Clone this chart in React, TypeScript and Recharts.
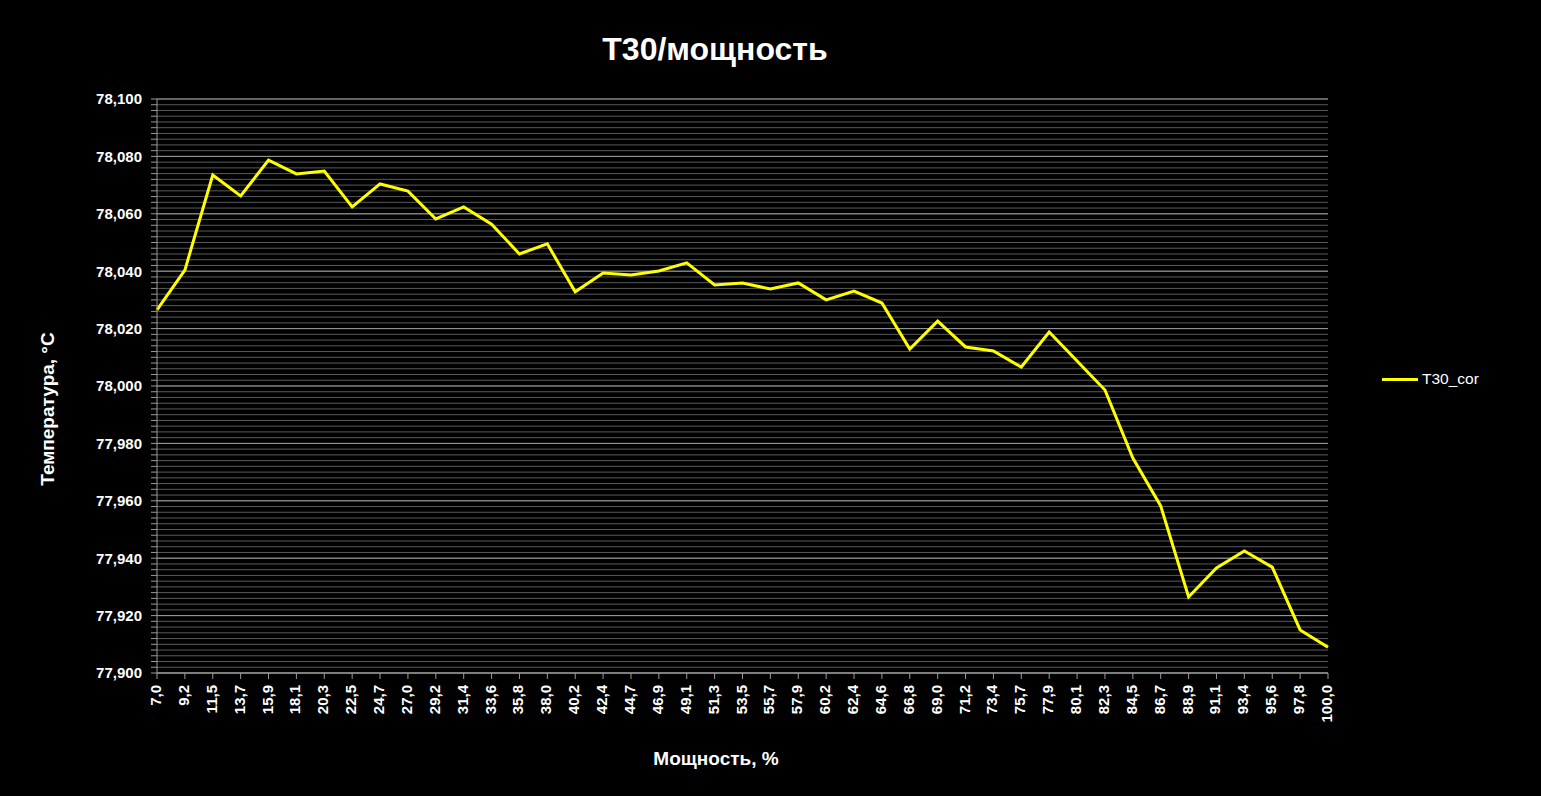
import React from 'react'
import { LineChart, Line, XAxis, YAxis, CartesianGrid, ReferenceLine } from 'recharts'

const power = [
  '7,0', '9,2', '11,5', '13,7', '15,9', '18,1', '20,3', '22,5', '24,7', '27,0',
  '29,2', '31,4', '33,6', '35,8', '38,0', '40,2', '42,4', '44,7', '46,9', '49,1',
  '51,3', '53,5', '55,7', '57,9', '60,2', '62,4', '64,6', '66,8', '69,0', '71,2',
  '73,4', '75,7', '77,9', '80,1', '82,3', '84,5', '86,7', '88,9', '91,1', '93,4',
  '95,6', '97,8', '100,0'
]

const t30 = [
  78.0265, 78.0404, 78.0735, 78.0662, 78.0787, 78.0739, 78.0749, 78.0624, 78.0704, 78.0679,
  78.0582, 78.0624, 78.0564, 78.046, 78.0495, 78.0328, 78.0394, 78.0387, 78.0401, 78.0429,
  78.0352, 78.0359, 78.0338, 78.0359, 78.030, 78.0331, 78.0289, 78.0129, 78.0226, 78.0136,
  78.0122, 78.0066, 78.0188, 78.0087, 77.9986, 77.9749, 77.9582, 77.9265, 77.9366, 77.9425,
  77.9369, 77.915, 77.909
]

const majorTicks = [77.9, 77.92, 77.94, 77.96, 77.98, 78.0, 78.02, 78.04, 78.06, 78.08, 78.1]

// minor grid every 0.002
const minorTicks: number[] = []
for (let i = 0; i <= 100; i++) minorTicks.push(Math.round((77.9 + i * 0.002) * 1000) / 1000)

const data = power.map((p, i) => ({ power: p, t30: t30[i] }))

const font = '"Liberation Sans", Arial, sans-serif'

const isMajor = (v: number) => Math.abs(Math.round(v * 50) - v * 50) < 1e-6

const XTick = (props: any) => {
  const { x, y, payload } = props
  return (
    <text x={x} y={y} transform={`rotate(-90, ${x}, ${y})`} textAnchor="end" dy={4}
      fill="#fff" fontSize={15} fontWeight="bold" fontFamily={font}>
      {payload.value}
    </text>
  )
}

export default function App() {
  return (
    <div style={{ position: 'absolute', left: 0, top: 0, width: 1541, height: 796, background: '#000', fontFamily: font }}>
      <div style={{ position: 'absolute', left: 0, width: 1430, top: 31, textAlign: 'center', color: '#fff', fontSize: 32, fontWeight: 'bold', lineHeight: 'normal' }}>
        T30/мощность
      </div>
      <LineChart width={1541} height={796} data={data} margin={{ top: 99, right: 213, bottom: 0, left: 0 }}>
        <CartesianGrid vertical={false} horizontalValues={minorTicks} stroke="#5a5a5a" strokeWidth={1} />
        {majorTicks.map((v) => (
          <ReferenceLine key={v} y={v} stroke="#9a9a9a" strokeWidth={1} />
        ))}
        <XAxis dataKey="power" height={123} interval={0} tick={<XTick />}
          stroke="#9a9a9a" tickSize={6} tickMargin={6} />
        <YAxis type="number" domain={[77.9, 78.1]} ticks={minorTicks} interval={0} width={157}
          allowDataOverflow stroke="#9a9a9a" tickSize={6} tickMargin={9}
          tickFormatter={(v: number) => (isMajor(v) ? v.toFixed(3).replace('.', ',') : '')}
          tick={{ fill: '#fff', fontSize: 15, fontWeight: 'bold', fontFamily: font }} />
        <Line type="linear" dataKey="t30" stroke="#ffff00" strokeWidth={3} dot={false} isAnimationActive={false} />
      </LineChart>
      <div style={{ position: 'absolute', left: 48, top: 409, transform: 'translate(-50%, -50%) rotate(-90deg)', color: '#fff', fontSize: 19, fontWeight: 'bold', whiteSpace: 'nowrap' }}>
        Температура, °C
      </div>
      <div style={{ position: 'absolute', left: 0, width: 1432, top: 748, textAlign: 'center', color: '#fff', fontSize: 19, fontWeight: 'bold' }}>
        Мощность, %
      </div>
      <div style={{ position: 'absolute', left: 1382, top: 370, display: 'flex', alignItems: 'center', color: '#fff', fontSize: 15.5 }}>
        <div style={{ width: 36, height: 3, background: '#ffff00', marginRight: 4 }} />
        <span>T30_cor</span>
      </div>
    </div>
  )
}
